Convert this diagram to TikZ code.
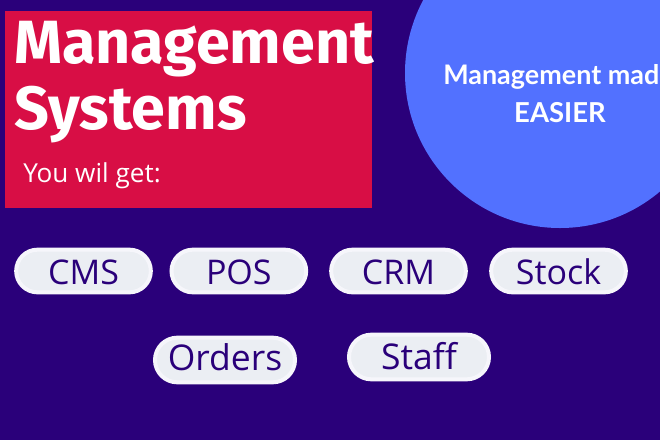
\documentclass[tikz,border=0pt]{standalone}
\usepackage{fontspec}
\setmainfont{Open Sans}
\newfontfamily\titlefont{Fira Sans}
\newfontfamily\roundfont{Lato}
\usepackage{xcolor}
\usetikzlibrary{shapes.misc,positioning}
\definecolor{bgviolet}{HTML}{2A007A}
\definecolor{headred}{HTML}{D80E45}
\definecolor{roundblue}{HTML}{5271FF}
\definecolor{pillgrey}{HTML}{EBEEF3}
\definecolor{pillrim}{HTML}{F6F6FB}

\begin{document}
\begin{tikzpicture}[x=0.75pt, y=-0.75pt,
    pill/.style={rounded rectangle, fill=pillgrey, draw=pillrim, line width=3pt, text=bgviolet, minimum width=101pt, minimum height=32pt, inner sep=0pt, text height=19.5pt, text depth=0pt, font=\fontsize{25.5}{28}\selectfont},
    bigpill/.style={pill, minimum width=105pt, minimum height=33.5pt, font=\fontsize{26.6}{30}\selectfont}]
    % Background
    \useasboundingbox (0,0) rectangle (660,440);
    \fill[bgviolet] (0,0) rectangle (660,440);

    % Panels
    \fill[headred] (5,11) rectangle (372,208);
    \node (round) [circle, fill=roundblue, minimum size=232.5pt, inner sep=0pt] at (560,73) {};

    % Texts
    \node (title) [anchor=base west, inner sep=0pt, text=white, font=\titlefont\bfseries\fontsize{45.8}{46}\selectfont] at (14,63) {Management};
    \node (systems) [anchor=base west, inner sep=0pt, text=white, font=\titlefont\bfseries\fontsize{45.8}{46}\selectfont] at (14,129) {Systems};
    \node (get) [anchor=base west, inner sep=0pt, text=white, font=\fontsize{19.6}{22}\selectfont] at (23,182) {You wil get:};
    \node (made) [anchor=base west, inner sep=0pt, text=white, font=\roundfont\bfseries\fontsize{20.2}{24}\selectfont] at (443,84.5) {Management made};
    \node (easier) [anchor=base, inner sep=0pt, text=white, font=\roundfont\bfseries\fontsize{20.6}{24}\selectfont] at (560,122.5) {EASIER};

    % Pills
    \node (cms) [pill] at (83.5,271) {CMS};
    \node (pos) [pill, right=12.5pt of cms] {POS};
    \node (crm) [pill, right=15.75pt of pos] {CRM};
    \node (stock) [pill, right=16pt of crm] {Stock};
    \node (orders) [bigpill, text height=15pt] at (225,360) {Orders};
    \node (staff) [bigpill, text height=18pt] at (419,357) {Staff};
\end{tikzpicture}
\end{document}
